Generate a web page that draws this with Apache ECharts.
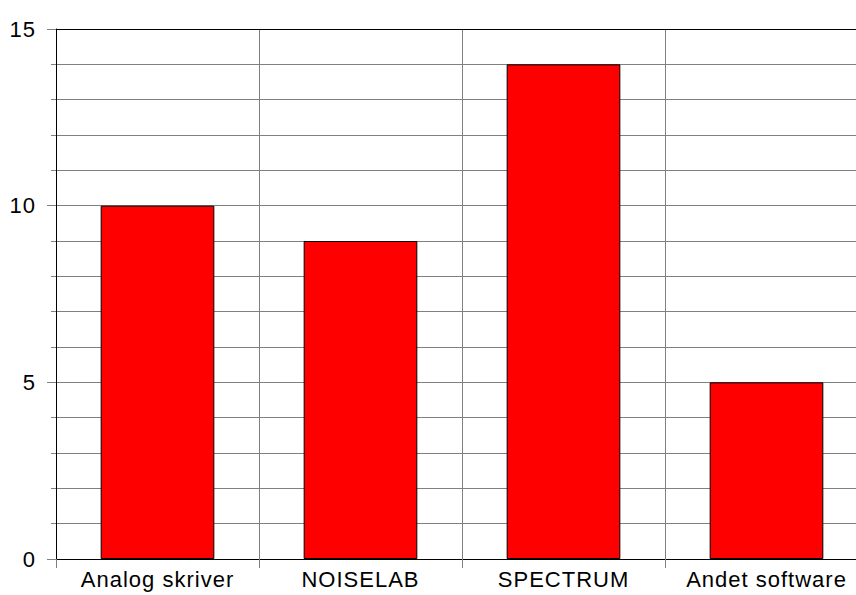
<!DOCTYPE html>
<html>
<head>
<meta charset="utf-8">
<script src="https://cdn.jsdelivr.net/npm/echarts@6/dist/echarts.min.js"></script>
<style>
html,body{margin:0;padding:0;background:#fff;overflow:hidden;width:856px;height:595px;}
#chart{width:868px;height:595px;letter-spacing:1px;}
</style>
</head>
<body>
<div id="chart"></div>
<script>
const categories = ['Analog skriver', 'NOISELAB', 'SPECTRUM', 'Andet software'];
const values = [10, 9, 14, 5];
const yMin = 0, yMax = 15, yInterval = 5;

const chart = echarts.init(document.getElementById('chart'), null, {renderer: 'svg'});
const font = {fontFamily: '"Liberation Sans", Arial, sans-serif', fontSize: 22, color: '#000'};
chart.setOption({
  animation: false,
  backgroundColor: '#fff',
  grid: {left: 56, top: 29, right: 0, bottom: 36, containLabel: false},
  xAxis: [{
    type: 'category',
    data: categories,
    position: 'bottom',
    boundaryGap: true,
    axisLine: {show: true, lineStyle: {color: '#000', width: 1}},
    axisTick: {show: true, length: 9, alignWithLabel: false, lineStyle: {color: '#808080'}},
    splitLine: {show: true, lineStyle: {color: '#808080', width: 1}},
    axisLabel: Object.assign({margin: 9}, font)
  }, {
    type: 'category',
    data: categories,
    position: 'top',
    axisLine: {show: true, lineStyle: {color: '#000', width: 1}},
    axisTick: {show: false},
    axisLabel: {show: false},
    splitLine: {show: false}
  }],
  yAxis: {
    type: 'value',
    min: yMin, max: yMax, interval: yInterval,
    axisLine: {show: true, lineStyle: {color: '#000', width: 1}},
    axisTick: {show: true, length: 9, lineStyle: {color: '#808080'}},
    minorTick: {show: true, splitNumber: 5, length: 5, lineStyle: {color: '#808080'}},
    splitLine: {show: true, lineStyle: {color: '#808080', width: 1}},
    minorSplitLine: {show: true, lineStyle: {color: '#808080', width: 1}},
    axisLabel: Object.assign({margin: 20}, font)
  },
  series: [{
    type: 'bar',
    data: values,
    xAxisIndex: 0,
    barWidth: '56%',
    itemStyle: {color: '#ff0000', borderColor: '#000', borderWidth: 1}
  }]
});
</script>
</body>
</html>
